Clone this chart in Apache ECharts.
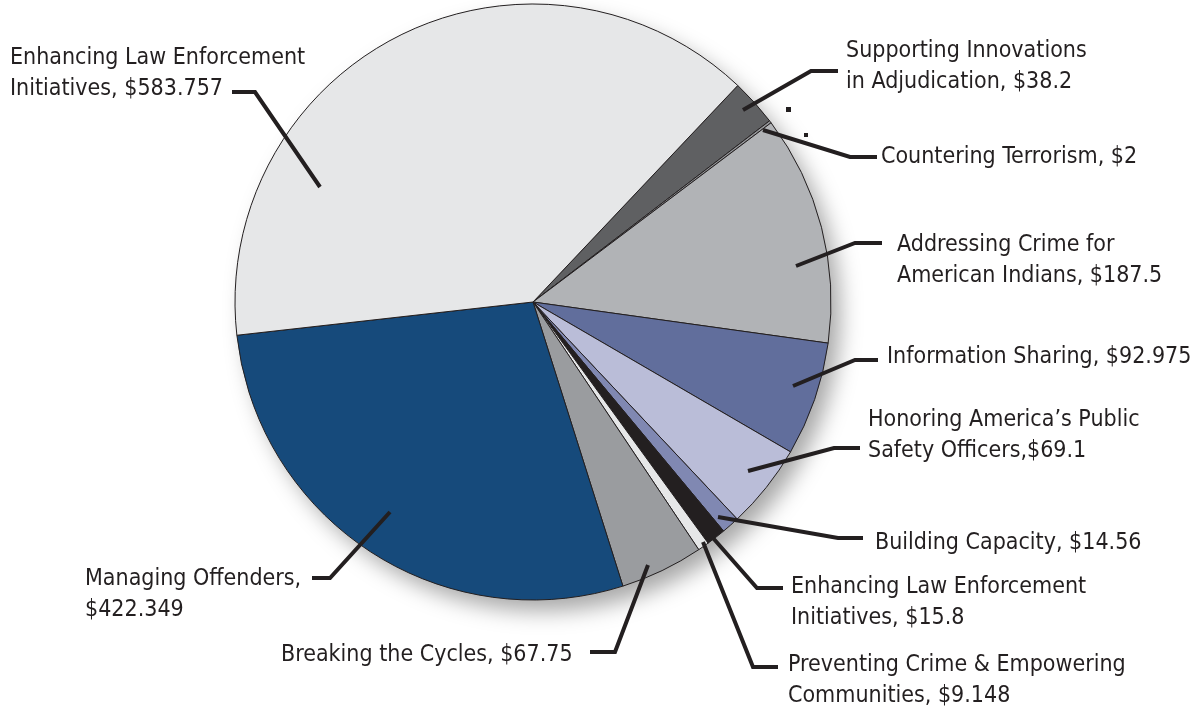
<!DOCTYPE html>
<html>
<head>
<meta charset="utf-8">
<script src="https://cdn.jsdelivr.net/npm/echarts@6/dist/echarts.min.js"></script>
<style>
  html, body { margin: 0; padding: 0; background: #ffffff; }
  #main { width: 1204px; height: 712px; }
</style>
</head>
<body>
<div id="main"></div>
<script>
// program names (line breaks as in the original labels), clockwise from the top right
const names = [
  'Supporting Innovations\nin Adjudication',
  'Countering Terrorism',
  'Addressing Crime for\nAmerican Indians',
  'Information Sharing',
  'Honoring America\u2019s Public\nSafety Officers',
  'Building Capacity',
  'Enhancing Law Enforcement\nInitiatives',
  'Preventing Crime & Empowering\nCommunities',
  'Breaking the Cycles',
  'Managing Offenders',
  'Enhancing Law Enforcement\nInitiatives'
];
// amounts ($ millions)
const amounts = [38.2, 2, 187.5, 92.975, 69.1, 14.56, 15.8, 9.148, 67.75, 422.349, 583.757];
// text between name and amount
const separators = [', ', ', ', ', ', ', ', ',', ', ', ', ', ', ', ', ', ',\n', ', '];

const colors = ['#5f6062', '#939598', '#b1b3b6', '#616e9c', '#babdd8', '#8088b2',
  '#231f20', '#e6e7e8', '#9a9c9f', '#164a7b', '#e6e7e8'];

// label placement: text x, text y (centre), line start inside slice, elbow, line end
const labelSpots = [
  { x: 846, y: 67,  pts: [[743, 110], [811, 71], [838, 71]] },
  { x: 881, y: 157, pts: [[763, 130], [850, 157], [877, 157]] },
  { x: 897, y: 261, pts: [[796, 266], [855, 243], [882, 243]] },
  { x: 887, y: 357, pts: [[793, 386], [855, 360], [878, 360]] },
  { x: 868, y: 436, pts: [[748, 471], [834, 448], [860, 448]] },
  { x: 875, y: 543, pts: [[718, 517], [838, 538], [863, 538]] },
  { x: 791, y: 603, pts: [[713, 538], [757, 588], [783, 588]] },
  { x: 788, y: 681, pts: [[703, 542], [753, 667], [778, 667]] },
  { x: 281, y: 655, pts: [[648, 565], [615, 652], [590, 652]] },
  { x: 85,  y: 595, pts: [[390, 512], [330, 578], [312, 578]] },
  { x: 10,  y: 74,  pts: [[320, 187], [255, 92], [232, 92]] }
];

const total = amounts.reduce((a, b) => a + b, 0);

let chart = echarts.init(document.getElementById('main'));

let pieBase = {
  type: 'pie',
  center: [533, 302],
  radius: 298,
  startAngle: 46.6,
  clockwise: true,
  avoidLabelOverlap: false,
  emphasis: { disabled: true }
};

let option = {
  backgroundColor: '#ffffff',
  animation: false,
  graphic: [
    { type: 'rect', shape: { x: 786, y: 107, width: 5, height: 5 }, style: { fill: '#231f20' } },
    { type: 'rect', shape: { x: 804, y: 133, width: 4, height: 4 }, style: { fill: '#231f20' } }
  ],
  series: [
    {
      // shadow disk behind the pie
      type: 'pie',
      silent: true,
      z: 1,
      center: [533, 302],
      radius: 297,
      label: { show: false },
      labelLine: { show: false },
      emphasis: { disabled: true },
      itemStyle: {
        color: '#ffffff',
        shadowBlur: 22,
        shadowOffsetX: 10,
        shadowOffsetY: 12,
        shadowColor: 'rgba(0,0,0,0.35)'
      },
      data: [{ value: total, name: 'all' }]
    },
    Object.assign({}, pieBase, {
      // coloured slices
      z: 2,
      itemStyle: { borderColor: '#231f20', borderWidth: 1 },
      label: { show: false },
      labelLine: { show: false },
      data: names.map((n, i) => ({
        name: n,
        value: amounts[i],
        itemStyle: { color: colors[i] }
      }))
    }),
    Object.assign({}, pieBase, {
      // labels and leader lines, drawn above the slices
      z: 3,
      silent: true,
      itemStyle: { color: 'rgba(0,0,0,0)', borderWidth: 0 },
      label: {
        show: true,
        color: '#231f20',
        fontFamily: '"Liberation Sans Narrow", "DejaVu Sans Condensed", sans-serif',
        fontSize: 23,
        lineHeight: 31,
        formatter: p => p.name + separators[p.dataIndex] + '$' + amounts[p.dataIndex]
      },
      labelLine: {
        show: true,
        lineStyle: { color: '#231f20', width: 4 }
      },
      labelLayout: params => {
        let s = labelSpots[params.dataIndex];
        return {
          x: s.x,
          y: s.y,
          align: 'left',
          verticalAlign: 'middle',
          labelLinePoints: s.pts
        };
      },
      data: names.map((n, i) => ({ name: n, value: amounts[i] }))
    })
  ]
};

chart.setOption(option);
window.addEventListener('resize', () => {
  chart.resize();
});
</script>
</body>
</html>
